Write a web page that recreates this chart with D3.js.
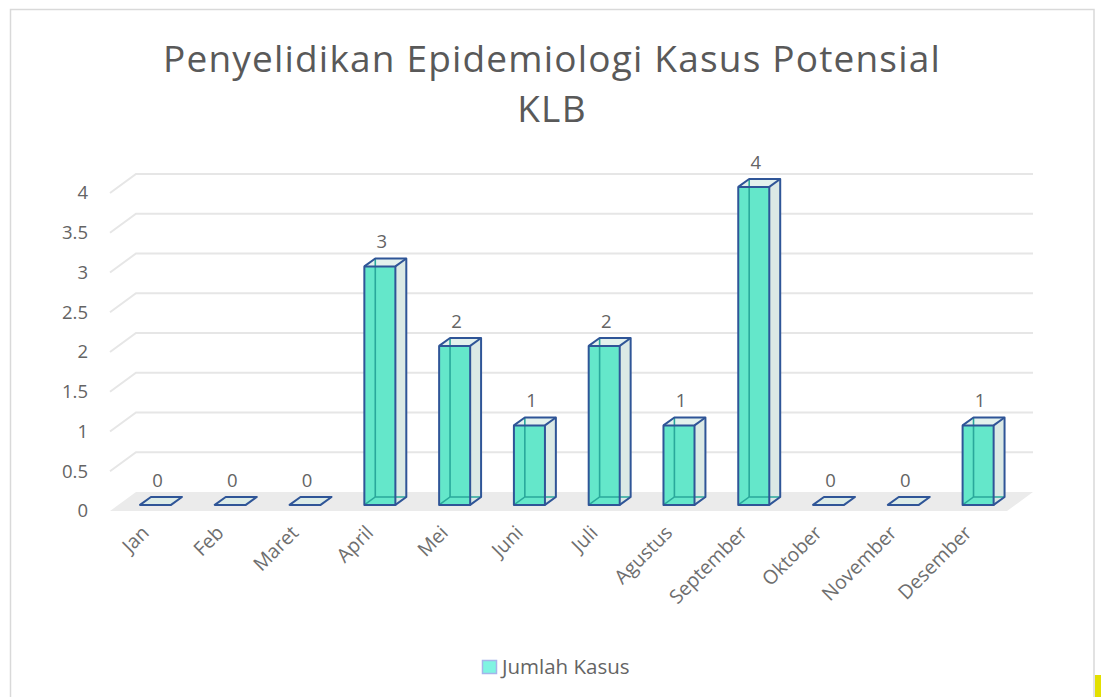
<!DOCTYPE html>
<html>
<head>
<meta charset="utf-8">
<script src="https://cdn.jsdelivr.net/npm/d3@7"></script>
<style>
  html, body { margin: 0; padding: 0; background: #ffffff; }
  svg { display: block; }
  text { font-family: "Open Sans", "DejaVu Sans", sans-serif; }
</style>
</head>
<body>
<svg id="chart" width="1101" height="697"></svg>
<script>
// Monthly counts of epidemiological investigations
const months = ["Jan", "Feb", "Maret", "April", "Mei", "Juni", "Juli", "Agustus",
                "September", "Oktober", "November", "Desember"];
const cases = [0, 0, 0, 3, 2, 1, 2, 1, 4, 0, 0, 1];
const yTicks = [0, 0.5, 1, 1.5, 2, 2.5, 3, 3.5, 4];
const titleLines = ["Penyelidikan Epidemiologi Kasus Potensial", "KLB"];
const seriesName = "Jumlah Kasus";

const svg = d3.select("#chart");

// chart frame
svg.append("rect")
  .attr("x", 10.5).attr("y", 9.5).attr("width", 1083.5).attr("height", 700)
  .attr("fill", "#ffffff").attr("stroke", "#d9d9d9").attr("stroke-width", 1.5);
svg.append("rect")
  .attr("x", 1095).attr("y", 675).attr("width", 6).attr("height", 22)
  .attr("fill", "#e3e000");

// oblique projection: depth vector from the front of the floor to the back wall
const depth = { dx: 26, dy: -19 };
const floorLeft = 110, floorRight = 1007;

const x = d3.scaleBand()
  .domain(months)
  .range([floorLeft, floorRight])
  .paddingInner(0.585)
  .paddingOuter(0.29);

// vertical scale on the front plane of the floor
const y = d3.scaleLinear().domain([0, 4]).range([511, 193]);

const proj = (px, v, t) => [px + t * depth.dx, y(v) + t * depth.dy];

// floor
const floorPts = [proj(floorLeft, 0, 0), proj(floorLeft, 0, 1), proj(floorRight, 0, 1), proj(floorRight, 0, 0)];
svg.append("polygon")
  .attr("points", floorPts.map(p => p.join(",")).join(" "))
  .attr("fill", "#ebebeb");

// gridlines: left wall diagonal + back wall horizontal
const grid = svg.append("g").attr("fill", "none").attr("stroke", "#e6e6e6").attr("stroke-width", 2);
yTicks.filter(v => v > 0).forEach(v => {
  const a = proj(floorLeft, v, 0), b = proj(floorLeft, v, 1), c = proj(floorRight, v, 1);
  grid.append("polyline").attr("points", [a, b, c].map(p => p.join(",")).join(" "));
});

// y axis labels
svg.append("g").selectAll("text")
  .data(yTicks)
  .join("text")
  .attr("x", 88)
  .attr("y", d => y(d))
  .attr("dy", "0.35em")
  .attr("text-anchor", "end")
  .attr("font-size", 18.5)
  .attr("fill", "#646464")
  .text(d => d);

// bars
const tFront = 0.32, tBack = 0.74;
const edge = "#2f5597", hidden = "#2aa89b";
const bars = svg.append("g");
const pts = arr => arr.map(p => p.join(",")).join(" ");

months.forEach((m, i) => {
  const v = cases[i];
  const x0 = x(m), x1 = x(m) + x.bandwidth();
  const g = bars.append("g");
  // corners
  const fLB = proj(x0, 0, tFront), fRB = proj(x1, 0, tFront);
  const fLT = proj(x0, v, tFront), fRT = proj(x1, v, tFront);
  const bLB = proj(x0, 0, tBack), bRB = proj(x1, 0, tBack);
  const bLT = proj(x0, v, tBack), bRT = proj(x1, v, tBack);

  if (v === 0) {
    g.append("polygon")
      .attr("points", pts([fLB, fRB, bRB, bLB]))
      .attr("fill", "#dcebe7").attr("stroke", edge).attr("stroke-width", 2)
      .attr("stroke-linejoin", "round");
  } else {
    // right side face
    g.append("polygon").attr("points", pts([fRB, bRB, bRT, fRT]))
      .attr("fill", "#dbe9e5");
    // top face
    g.append("polygon").attr("points", pts([fLT, fRT, bRT, bLT]))
      .attr("fill", "#e3f1ed");
    // front face
    g.append("polygon").attr("points", pts([fLB, fRB, fRT, fLT]))
      .attr("fill", "#64e7ca");
    // back edges seen through the translucent front
    g.append("polyline").attr("points", pts([fLB, bLB, bRB]))
      .attr("fill", "none").attr("stroke", hidden).attr("stroke-width", 1.6);
    g.append("line")
      .attr("x1", bLB[0]).attr("y1", bLB[1]).attr("x2", bLT[0]).attr("y2", bLT[1])
      .attr("stroke", hidden).attr("stroke-width", 1.6);
    // visible outline
    g.append("polygon").attr("points", pts([fLB, fRB, fRT, fLT]))
      .attr("fill", "none").attr("stroke", edge).attr("stroke-width", 2).attr("stroke-linejoin", "round");
    g.append("polyline").attr("points", pts([fRB, bRB, bRT, bLT, fLT]))
      .attr("fill", "none").attr("stroke", edge).attr("stroke-width", 2).attr("stroke-linejoin", "round");
    g.append("line")
      .attr("x1", fRT[0]).attr("y1", fRT[1]).attr("x2", bRT[0]).attr("y2", bRT[1])
      .attr("stroke", edge).attr("stroke-width", 2);
  }

  // value label above the bar
  svg.append("text")
    .attr("x", (fLT[0] + fRT[0]) / 2 + 2)
    .attr("y", bLT[1] - 10)
    .attr("text-anchor", "middle")
    .attr("font-size", 18.5)
    .attr("fill", "#646464")
    .text(v);
});

// category labels, rotated
svg.append("g").selectAll("text")
  .data(months)
  .join("text")
  .attr("transform", d => `translate(${x(d) + x.bandwidth() / 2 + 3},${534}) rotate(-45)`)
  .attr("text-anchor", "end")
  .attr("font-size", 19.5)
  .attr("fill", "#6e6e6e")
  .text(d => d);

// title
const titleBase = [72, 122];
const titleTarget = 778;
const probe = svg.append("text").attr("font-size", 37).attr("opacity", 0).text(titleLines[0]);
const titleSpacing = (titleTarget - probe.node().getComputedTextLength()) / titleLines[0].length;
probe.remove();
titleLines.forEach((line, i) => {
  svg.append("text")
    .attr("x", 552)
    .attr("y", titleBase[i])
    .attr("text-anchor", "middle")
    .attr("font-size", 37)
    .attr("letter-spacing", titleSpacing)
    .attr("fill", "#595959")
    .text(line);
});

// legend
svg.append("rect")
  .attr("x", 482.5).attr("y", 660.5).attr("width", 14).attr("height", 13)
  .attr("fill", "#7ff4e2").attr("stroke", "#a5b5ea").attr("stroke-width", 1.5);
svg.append("text")
  .attr("x", 502).attr("y", 674)
  .attr("font-size", 20.5)
  .attr("fill", "#646464")
  .text(seriesName);
</script>
</body>
</html>
